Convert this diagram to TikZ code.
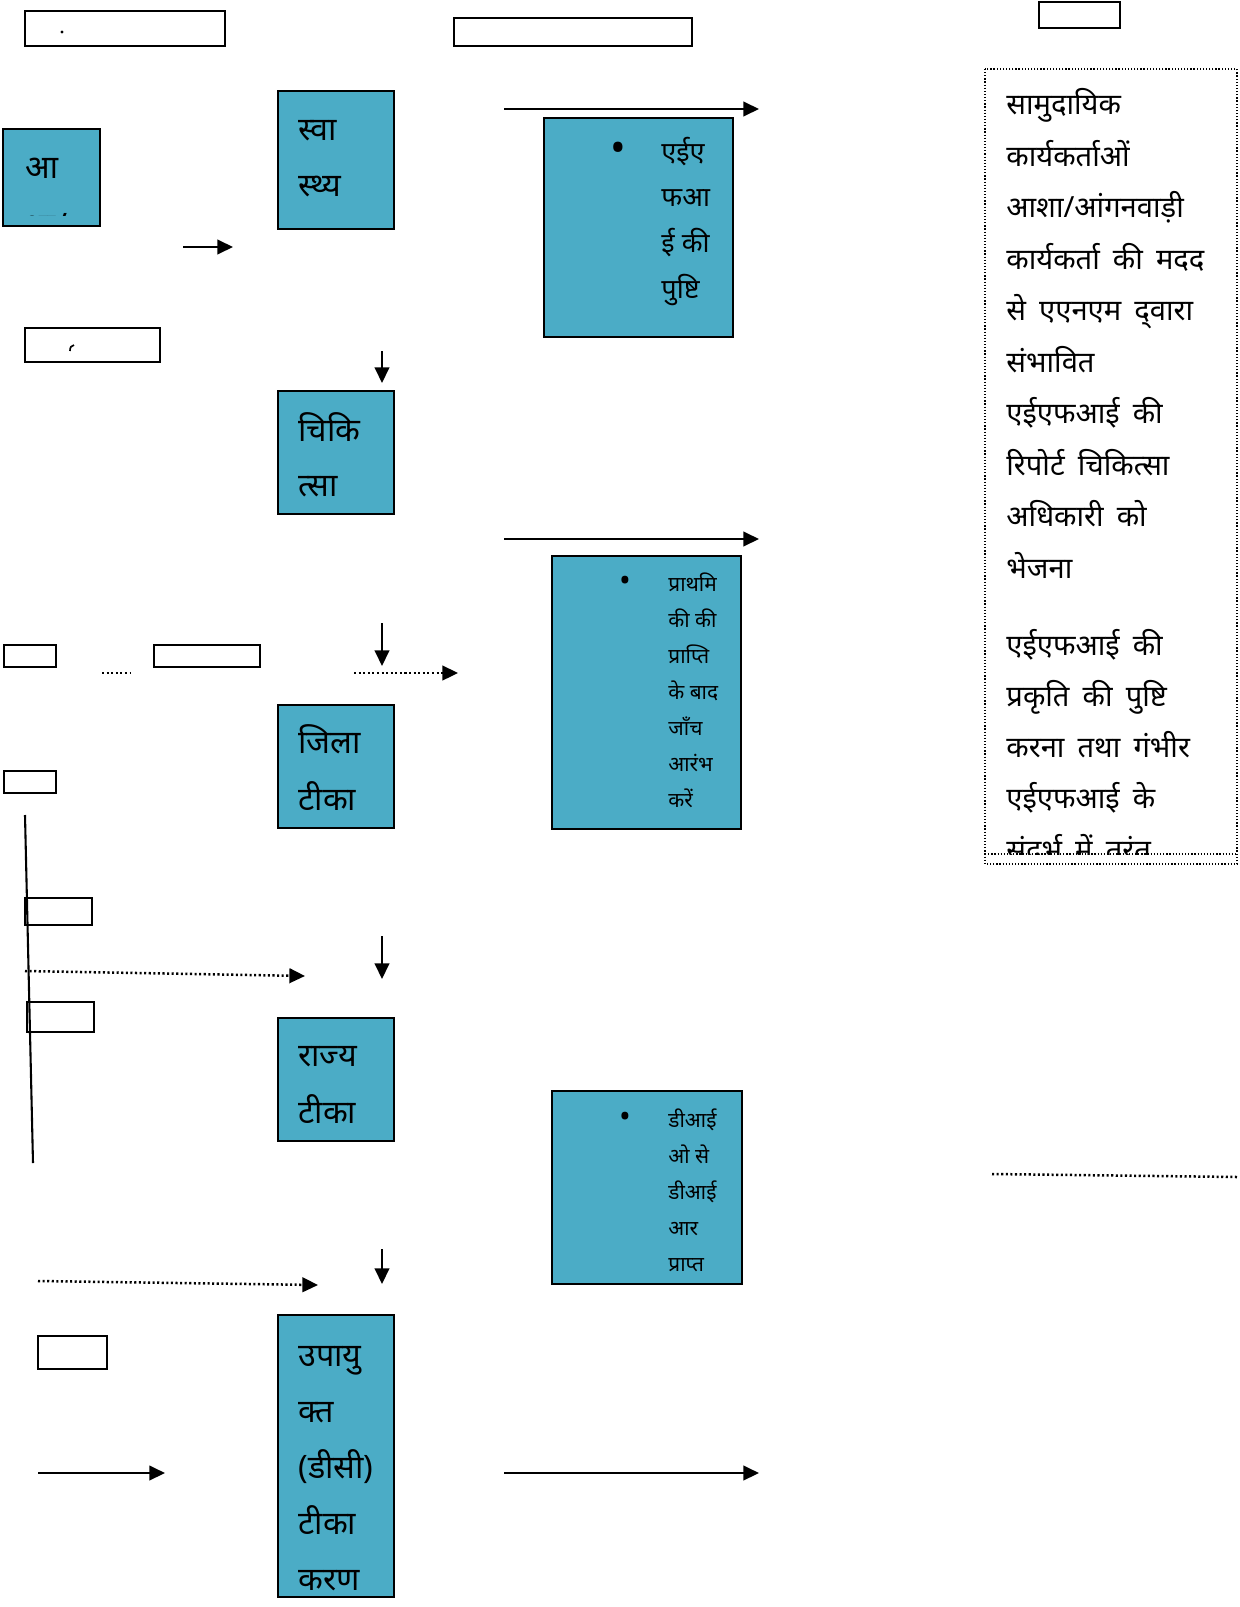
\documentclass[tikz,border=0pt]{standalone}
\usepackage{fontspec}
\setmainfont{Noto Sans}[Script=Devanagari]
\usetikzlibrary{arrows.meta}
\definecolor{boxblue}{HTML}{4BACC6}
\newcommand\widesp{\spaceskip=0.45em plus 0.1em\relax}
\begin{document}
\begin{tikzpicture}[x=0.48pt,y=-0.48pt,
  frame/.style={draw=black, line width=0.75pt, inner sep=0pt, outer sep=0pt, anchor=north west},
  bluebox/.style={frame, fill=boxblue},
  whitebox/.style={frame, fill=white},
  sz/.style 2 args={minimum width=#1*0.48pt, minimum height=#2*0.48pt},
  solidline/.style={line width=1pt},
  arr/.style={solidline, -{Triangle[length=7.5pt,width=7pt]}},
  dotline/.style={line width=1.2pt, dash pattern=on 1pt off 1.2pt},
  dotarr/.style={dotline, -{Triangle[length=7.5pt,width=7pt]}},
  boxframe/.style={line width=0.6pt, dash pattern=on 0.6pt off 0.9pt},
  big/.style={anchor=base west, inner sep=0pt, font=\fontsize{15.5}{19}\selectfont},
  mid/.style={anchor=base west, inner sep=0pt, font=\fontsize{13}{16}\selectfont},
  side/.style={anchor=base west, inner sep=0pt, font=\fontsize{14}{17}\selectfont\widesp},
  small/.style={anchor=base west, inner sep=0pt, font=\fontsize{10}{12}\selectfont},
  bul/.style={inner sep=0pt, anchor=center},
]
\useasboundingbox (0,0) rectangle (1240,1607);

% white empty boxes
\node[whitebox, sz={200}{35}] (w1) at (25,11) {};
\node[whitebox, sz={238}{28}] (w2) at (454,18) {};
\node[whitebox, sz={81}{26}] (w3) at (1039,2) {};
\node[whitebox, sz={135}{34}] (w4) at (25,328) {};
\node[whitebox, sz={52}{22}] (w5) at (4,645) {};
\node[whitebox, sz={106}{22}] (w6) at (154,645) {};
\node[whitebox, sz={52}{22}] (w7) at (4,771) {};
\node[whitebox, sz={67}{27}] (w8) at (25,898) {};
\node[whitebox, sz={67}{30}] (w9) at (27,1002) {};
\node[whitebox, sz={69}{33}] (w10) at (38,1336) {};
\fill (62,32) circle[radius=0.8pt];
\draw[line width=0.8pt] (70,351) .. controls (70,347) and (71,346) .. (74,345);

% blue boxes
\node[bluebox, sz={97}{97}] (b0) at (3,129) {};
\node[bluebox, sz={116}{138}] (b1) at (278,91) {};
\node[bluebox, sz={116}{123}] (b2) at (278,391) {};
\node[bluebox, sz={116}{123}] (b3) at (278,705) {};
\node[bluebox, sz={116}{123}] (b4) at (278,1018) {};
\node[bluebox, sz={116}{282}] (b5) at (278,1315) {};
\node[bluebox, sz={189}{219}] (c1) at (544,118) {};
\node[bluebox, sz={189}{273}] (c2) at (552,556) {};
\node[bluebox, sz={190}{193}] (c3) at (552,1091) {};

% texts in the big boxes
\begin{scope}
\clip (3,129) rectangle (100,215);
\foreach \t [count=\i] in {आ,शा/}
  \node[big] (b0t\i) at (25,{178+58*(\i-1)}) {\t};
\end{scope}
\foreach \t [count=\i] in {स्वा,स्थ्य}
  \node[big] (b1t\i) at (298,{141+55*(\i-1)}) {\t};
\foreach \t [count=\i] in {चिकि,त्सा}
  \node[big] (b2t\i) at (298,{441+55*(\i-1)}) {\t};
\foreach \t [count=\i] in {जिला,टीका}
  \node[big] (b3t\i) at (298,{753+57*(\i-1)}) {\t};
\foreach \t [count=\i] in {राज्य,टीका}
  \node[big] (b4t\i) at (298,{1066+57*(\i-1)}) {\t};
\foreach \t [count=\i] in {उपायु,क्त,(डीसी),टीका,करण}
  \node[big] (b5t\i) at (298,{1366+56*(\i-1)}) {\t};

% texts in the side boxes
\node[bul, font=\fontsize{20}{20}\selectfont] (c1b) at (618,152) {•};
\foreach \t [count=\i] in {एईए,फआ,ई की,पुष्टि}
  \node[mid] (c1t\i) at (661,{161+45.7*(\i-1)}) {\t};
\node[bul, font=\fontsize{15}{15}\selectfont] (c2b) at (625,584) {•};
\foreach \t [count=\i] in {प्राथमि,की की,प्राप्ति,के बाद,जाँच,आरंभ,करें}
  \node[small] (c2t\i) at (668,{591+36.1*(\i-1)}) {\t};
\node[bul, font=\fontsize{15}{15}\selectfont] (c3b) at (625,1120) {•};
\foreach \t [count=\i] in {डीआई,ओ से,डीआई,आर,प्राप्त}
  \node[small] (c3t\i) at (668,{1127+36*(\i-1)}) {\t};

% dotted text frame on the right
\draw[boxframe] (985,69) rectangle (1237,864);
\draw[boxframe] (985,854) -- (1237,854);
\begin{scope}
\clip (985,69) rectangle (1237,854);
\foreach \t [count=\i] in {सामुदायिक,कार्यकर्ताओं,आशा/आंगनवाड़ी,कार्यकर्ता की मदद,से एएनएम द्‌वारा,संभावित,एईएफआई की,रिपोर्ट चिकित्सा,अधिकारी को,भेजना}
  \node[side] (r\i) at (1006,{114.5+51.5*(\i-1)}) {\t};
\foreach \t [count=\i] in {एईएफआई की,प्रकृति की पुष्टि,करना तथा गंभीर,एईएफआई के,संदर्भ में तुरंत}
  \node[side] (s\i) at (1006,{655+51.3*(\i-1)}) {\t};
\end{scope}

% connectors
\coordinate (a1s) at (183,247); \coordinate (a1e) at (233,247);
\coordinate (a2s) at (504,109); \coordinate (a2e) at (759,109);
\coordinate (a3s) at (382,351); \coordinate (a3e) at (382,383);
\coordinate (a4s) at (504,539); \coordinate (a4e) at (759,539);
\coordinate (a5s) at (382,623); \coordinate (a5e) at (382,666);
\coordinate (a6s) at (382,936); \coordinate (a6e) at (382,979);
\coordinate (a7s) at (382,1249); \coordinate (a7e) at (382,1284);
\coordinate (a8s) at (38,1473); \coordinate (a8e) at (165,1473);
\coordinate (a9s) at (504,1473); \coordinate (a9e) at (759,1473);
\foreach \k in {1,...,9} \draw[arr] (a\k s) -- (a\k e);

\coordinate (d1s) at (354,673); \coordinate (d1e) at (458,673);
\coordinate (d2s) at (25,971); \coordinate (d2e) at (305,976);
\coordinate (d3s) at (38,1281); \coordinate (d3e) at (318,1285);
\foreach \k in {1,2,3} \draw[dotarr] (d\k s) -- (d\k e);

\coordinate (e1s) at (102,673); \coordinate (e1e) at (131,673);
\coordinate (e2s) at (992,1174); \coordinate (e2e) at (1237,1177);
\draw[dotline] (e1s) -- (e1e);
\draw[dotline] (e2s) -- (e2e);

\coordinate (v1s) at (25,815); \coordinate (v1e) at (33,1163);
\draw[solidline] (v1s) -- (v1e);
\end{tikzpicture}
\end{document}
